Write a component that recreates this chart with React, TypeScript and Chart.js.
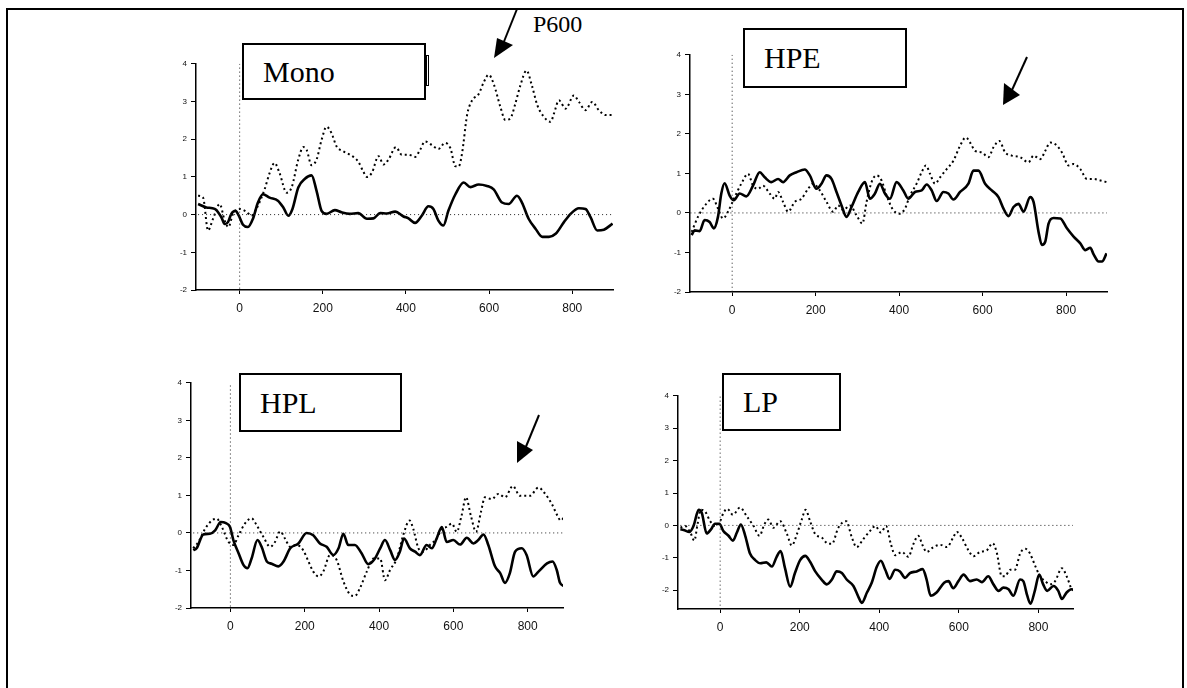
import React, { useEffect, useRef } from "react";
import { Chart, registerables } from "chart.js";
Chart.register(...registerables);

// ---------- ticks & reference lines ----------
const xTickValues = [0, 200, 400, 600, 800];
const yTickValues = [-2, -1, 0, 1, 2, 3, 4];
const refLineT = [-100, 900];
const refLineV = [0, 0];
const onsetT = [0, 0];
const onsetV = [-2.6, 4];

// ---------- Mono ----------
const monoSolidT = [-100,-80,-60,-44,-36,-28,-20,-10,-2,8,20,32,44,56,72,92,105,117,127,141,157,173,185,197,209,229,245,265,285,306,322,338,354,374,394,406,422,438,454,466,478,490,502,519,539,555,575,595,611,631,647,667,679,695,712,728,744,760,780,796,816,832,844,860,876,897];
const monoSolidV = [0.28,0.19,0.15,-0.07,-0.25,-0.2,0.02,0.1,-0.03,-0.27,-0.33,-0.11,0.32,0.54,0.45,0.37,0.19,-0.03,0.15,0.72,0.95,1.04,0.63,0.1,0.02,0.12,0.06,0.02,0.04,-0.11,-0.1,0.04,0.03,0.08,-0.05,-0.1,-0.22,-0.03,0.22,0.15,-0.16,-0.29,0.1,0.54,0.85,0.73,0.8,0.76,0.67,0.32,0.28,0.5,0.32,-0.11,-0.38,-0.59,-0.59,-0.51,-0.2,0.02,0.17,0.15,-0.07,-0.42,-0.4,-0.24];
const monoDotT = [-100,-88,-76,-64,-48,-36,-27,-16,0,16,28,40,60,72,84,96,113,125,141,153,161,173,185,197,209,221,233,249,265,285,297,306,318,334,346,358,376,390,406,422,434,446,462,478,494,507,519,527,535,547,559,575,587,599,611,627,639,651,663,675,690,703,716,732,748,756,768,784,804,816,832,848,864,880,899];
const monoDotV = [0.5,0.45,-0.42,-0.11,0.28,-0.16,-0.33,0.02,0.15,0.08,-0.03,0.15,0.67,1.1,1.37,1.1,0.58,0.72,1.46,1.79,1.72,1.31,1.46,1.98,2.33,2.16,1.81,1.68,1.59,1.41,1.15,1.0,1.11,1.55,1.33,1.46,1.79,1.59,1.59,1.53,1.72,1.94,1.85,1.74,1.9,1.76,1.28,1.28,1.63,2.64,3.03,3.2,3.51,3.71,3.47,2.86,2.51,2.55,2.94,3.42,3.82,3.42,2.9,2.59,2.46,2.68,3.03,2.81,3.16,2.99,2.77,2.99,2.77,2.64,2.64];

// ---------- HPE ----------
const hpeSolidT = [-97,-90,-78,-66,-54,-44,-34,-26,-18,-6,4,18,34,50,66,78,94,110,122,138,154,174,186,202,214,226,238,250,262,274,286,302,318,330,342,354,366,378,394,410,422,438,454,466,478,490,506,518,530,546,566,578,590,606,622,638,650,662,674,686,698,714,722,734,742,750,758,770,786,802,818,834,846,858,866,878,886,897];
const hpeSolidV = [-0.56,-0.44,-0.46,-0.18,-0.23,-0.39,-0.1,0.49,0.75,0.44,0.32,0.49,0.42,0.69,1.03,0.9,0.78,0.86,0.78,0.95,1.03,1.1,0.95,0.61,0.74,0.95,0.86,0.53,0.19,-0.1,0.15,0.53,0.78,0.36,0.49,0.74,0.49,0.36,0.78,0.57,0.36,0.53,0.57,0.72,0.57,0.3,0.53,0.49,0.34,0.53,0.74,1.07,1.07,0.74,0.57,0.4,0.11,-0.08,0.15,0.23,0.03,0.4,0.28,-0.48,-0.81,-0.73,-0.27,-0.13,-0.14,-0.39,-0.6,-0.77,-0.94,-0.88,-1.05,-1.23,-1.23,-1.02];
const hpeDotT = [-97,-82,-62,-46,-34,-22,-10,6,22,38,50,62,74,90,102,110,122,134,150,166,182,194,210,226,242,254,266,282,298,312,322,334,346,358,370,386,402,414,426,442,454,464,474,486,498,514,530,546,560,570,582,598,614,626,640,654,670,690,710,722,738,750,762,774,790,806,818,834,850,866,882,897];
const hpeDotV = [-0.48,-0.1,0.23,0.36,0.11,-0.14,0.03,0.4,0.74,0.99,0.69,0.61,0.69,0.49,0.36,0.53,0.28,0.03,0.28,0.36,0.61,0.74,0.57,0.28,0.03,0.19,0.07,0.19,-0.06,-0.27,0.28,0.78,0.95,0.82,0.44,0.07,-0.02,0.11,0.44,0.74,1.03,1.2,0.99,0.74,0.9,1.11,1.32,1.7,1.91,1.78,1.57,1.53,1.41,1.66,1.82,1.53,1.45,1.41,1.28,1.45,1.36,1.57,1.78,1.74,1.53,1.2,1.24,1.11,0.86,0.86,0.82,0.78];

// ---------- HPL ----------
const hplSolidT = [-100,-91,-73,-55,-41,-26,-12,-1,8,22,35,46,57,73,84,98,111,129,143,161,183,205,223,241,259,277,291,304,317,335,353,371,389,403,416,430,443,456,467,483,497,510,528,542,555,569,582,600,618,636,654,667,681,694,712,726,739,752,766,784,797,815,829,852,867,878,887,898];
const hplSolidV = [-0.46,-0.41,-0.04,-0.02,0.07,0.29,0.26,0.16,-0.19,-0.54,-0.85,-0.94,-0.68,-0.19,-0.37,-0.76,-0.82,-0.89,-0.76,-0.41,-0.28,0,-0.06,-0.28,-0.37,-0.59,-0.41,-0.02,-0.32,-0.32,-0.54,-0.83,-0.68,-0.41,-0.19,-0.46,-0.72,-0.5,-0.15,-0.41,-0.5,-0.59,-0.32,-0.41,-0.15,0.16,-0.24,-0.19,-0.31,-0.13,-0.28,-0.19,-0.04,-0.32,-0.89,-1.07,-1.33,-1.07,-0.5,-0.41,-0.59,-1.16,-1.03,-0.81,-0.76,-0.98,-1.33,-1.42];
const hplDotT = [-100,-86,-68,-50,-37,-23,-5,8,22,39,57,71,89,107,120,134,147,161,178,196,210,223,237,250,268,286,304,322,335,349,367,385,403,416,430,448,465,482,492,506,519,537,555,569,582,596,609,622,634,647,661,674,685,703,721,739,760,779,806,829,847,865,880,889,898];
const hplDotV = [-0.41,-0.24,0.11,0.33,0.38,0.16,-0.24,-0.32,-0.06,0.25,0.39,0.2,-0.11,-0.37,-0.24,0.04,-0.15,-0.37,-0.32,-0.46,-0.76,-1.03,-1.16,-1.03,-0.59,-0.72,-1.29,-1.64,-1.68,-1.46,-1.03,-0.68,-0.68,-1.26,-0.98,-0.68,-0.06,0.33,0.11,-0.41,-0.5,-0.32,-0.15,0.11,0.16,0.25,0.03,0.46,0.95,0.46,0.03,0.55,0.95,0.9,1.04,0.95,1.25,0.99,0.99,1.21,1.04,0.77,0.46,0.33,0.42];

// ---------- LP ----------
const lpSolidT = [-100,-92,-77,-67,-54,-46,-34,-23,-13,-2,8,21,32,42,52,63,75,88,101,116,130,142,152,163,176,188,201,214,226,239,255,268,281,293,306,318,335,348,356,369,381,394,404,415,426,440,452,465,477,494,509,519,529,544,563,574,586,599,612,628,645,658,674,687,700,712,725,737,754,762,772,780,791,802,812,822,838,850,859,871,883,892];
const lpSolidV = [-0.12,-0.14,-0.2,-0.02,0.48,0.38,-0.25,-0.12,0.05,0.05,-0.17,-0.32,-0.47,-0.22,0.03,-0.32,-0.87,-1.07,-1.17,-1.14,-1.27,-0.97,-0.79,-1.32,-1.89,-1.47,-1.07,-0.94,-1.12,-1.42,-1.67,-1.82,-1.67,-1.42,-1.47,-1.67,-1.87,-2.22,-2.39,-2.07,-1.77,-1.27,-1.09,-1.37,-1.65,-1.37,-1.42,-1.62,-1.47,-1.42,-1.35,-1.67,-2.17,-2.07,-1.77,-1.72,-1.94,-1.72,-1.52,-1.72,-1.67,-1.75,-1.57,-1.82,-2.02,-1.92,-1.97,-2.17,-1.67,-1.72,-2.17,-2.42,-2.02,-1.52,-1.82,-2.02,-1.87,-2.02,-2.27,-2.07,-1.97,-2.02];
const lpDotT = [-100,-88,-75,-65,-57,-49,-38,-25,-13,0,8,18,32,50,67,84,99,111,121,134,151,168,180,193,205,215,226,239,255,272,281,297,317,331,343,360,377,390,404,417,429,440,457,473,486,498,509,519,536,553,570,586,595,607,624,637,653,670,685,695,708,716,729,741,754,767,779,791,804,817,829,842,859,871,883];
const lpDotV = [-0.07,-0.02,-0.22,-0.47,0.03,0.48,0.43,0.13,-0.02,0.13,0.38,0.51,0.33,0.55,0.28,-0.02,-0.32,0.03,0.18,-0.07,0.13,-0.27,-0.62,-0.27,0.18,0.48,0.13,-0.27,-0.37,-0.57,-0.57,-0.07,0.13,-0.37,-0.67,-0.42,-0.17,-0.02,-0.22,-0.02,-0.57,-0.92,-0.82,-0.97,-0.57,-0.32,-0.62,-0.82,-0.67,-0.6,-0.67,-0.37,-0.2,-0.37,-0.77,-0.95,-0.82,-0.77,-0.55,-0.82,-1.57,-1.57,-1.37,-1.37,-0.87,-0.72,-0.87,-1.22,-1.57,-1.72,-1.82,-1.72,-1.32,-1.57,-1.97];

// ---------- layout ----------
type PanelCfg = {
  label: string;
  solidT: number[]; solidV: number[]; dotT: number[]; dotV: number[];
  area: { left: number; top: number; right: number; bottom: number };
  xMin: number; xMax: number; yMin: number; yMax: number;
  box: { left: number; top: number; width: number; height: number };
};

const panels: PanelCfg[] = [
  { label: "Mono", solidT: monoSolidT, solidV: monoSolidV, dotT: monoDotT, dotV: monoDotV,
    area: { left: 196, top: 61, right: 613, bottom: 290 }, xMin: -105, xMax: 898, yMin: -2, yMax: 4,
    box: { left: 242, top: 43, width: 184, height: 57 } },
  { label: "HPE", solidT: hpeSolidT, solidV: hpeSolidV, dotT: hpeDotT, dotV: hpeDotV,
    area: { left: 690, top: 52, right: 1107, bottom: 292 }, xMin: -101, xMax: 898, yMin: -2, yMax: 4,
    box: { left: 743, top: 28, width: 164, height: 60 } },
  { label: "HPL", solidT: hplSolidT, solidV: hplSolidV, dotT: hplDotT, dotV: hplDotV,
    area: { left: 191, top: 380, right: 563, bottom: 608 }, xMin: -106, xMax: 895, yMin: -2, yMax: 4,
    box: { left: 239, top: 373, width: 163, height: 59 } },
  { label: "LP", solidT: lpSolidT, solidV: lpSolidV, dotT: lpDotT, dotV: lpDotV,
    area: { left: 678, top: 393, right: 1073, bottom: 609 }, xMin: -106, xMax: 887, yMin: -2.58, yMax: 4,
    box: { left: 722, top: 373, width: 119, height: 58 } },
];

const PL = 40, PR = 6, PT = 6, PB = 36;

const toPts = (t: number[], v: number[]) => t.map((x, i) => ({ x, y: v[i] }));

function Panel({ p }: { p: PanelCfg }) {
  const ref = useRef<HTMLCanvasElement | null>(null);
  const w = p.area.right - p.area.left + PL + PR;
  const h = p.area.bottom - p.area.top + PT + PB;
  useEffect(() => {
    if (!ref.current) return;
    const chart = new Chart(ref.current, {
      type: "line",
      data: {
        datasets: [
          { data: toPts(refLineT, refLineV), borderColor: "#222", borderWidth: 1, borderDash: [1, 3], pointRadius: 0, tension: 0 },
          { data: toPts(onsetT, onsetV), borderColor: "#222", borderWidth: 1, borderDash: [1, 3], pointRadius: 0, tension: 0 },
          { data: toPts(p.dotT, p.dotV), borderColor: "#000", borderWidth: 2, borderDash: [2, 3], pointRadius: 0, cubicInterpolationMode: "monotone" },
          { data: toPts(p.solidT, p.solidV), borderColor: "#000", borderWidth: 2.6, pointRadius: 0, cubicInterpolationMode: "monotone" },
        ],
      } as any,
      options: {
        responsive: false,
        maintainAspectRatio: false,
        animation: false,
        layout: { padding: { top: PT, right: PR, left: 0, bottom: 0 } },
        plugins: { legend: { display: false }, tooltip: { enabled: false } },
        scales: {
          x: {
            type: "linear", min: p.xMin, max: p.xMax,
            afterFit: (s: any) => { s.height = PB; },
            afterBuildTicks: (s: any) => { s.ticks = xTickValues.map((v) => ({ value: v })); },
            grid: { display: true, drawOnChartArea: false, drawTicks: true, tickLength: 4, color: "#000", lineWidth: 1 },
            border: { display: true, color: "#000", width: 1.5 },
            ticks: { color: "#111", font: { family: "'Liberation Sans', Arial, sans-serif", size: 12 }, padding: 7, maxRotation: 0, autoSkip: false },
          },
          y: {
            type: "linear", min: p.yMin, max: p.yMax,
            afterFit: (s: any) => { s.width = PL; },
            afterBuildTicks: (s: any) => { s.ticks = yTickValues.map((v) => ({ value: v })); },
            grid: { display: true, drawOnChartArea: false, drawTicks: true, tickLength: 5, color: "#000", lineWidth: 1 },
            border: { display: true, color: "#000", width: 1.5 },
            ticks: { color: "#111", font: { family: "'Liberation Sans', Arial, sans-serif", size: 8 }, padding: 4, autoSkip: false },
          },
        },
      } as any,
    });
    return () => chart.destroy();
  }, []);
  return (
    <canvas
      ref={ref}
      width={w}
      height={h}
      style={{ position: "absolute", left: p.area.left - PL, top: p.area.top - PT, width: w, height: h }}
    />
  );
}

export default function App() {
  return (
    <div style={{ position: "fixed", left: 0, top: 0, width: 1187, height: 688, background: "#fff", overflow: "hidden" }}>
      <div style={{ position: "absolute", left: 6, top: 8, width: 1174, height: 720, borderTop: "2px solid #000", borderLeft: "2px solid #000", borderRight: "2px solid #000" }} />
      {panels.map((p) => <Panel key={p.label} p={p} />)}
      {panels.map((p) => (
        <div key={p.label + "-box"} style={{
          position: "absolute", left: p.box.left, top: p.box.top, width: p.box.width, height: p.box.height,
          boxSizing: "border-box", border: "2px solid #000", background: "#fff",
          display: "flex", alignItems: "center", paddingLeft: 19,
          fontFamily: "'Liberation Serif', 'Times New Roman', serif", fontSize: 30, color: "#000", lineHeight: 1,
        }}>{p.label}</div>
      ))}
      <div style={{ position: "absolute", left: 426, top: 55, width: 3, height: 31, boxSizing: "border-box", border: "1px solid #000", background: "#fff" }} />
      <div style={{ position: "absolute", left: 533, top: 9, fontFamily: "'Liberation Serif', 'Times New Roman', serif", fontSize: 24, color: "#000", lineHeight: "30px" }}>P600</div>
      <svg width={1187} height={688} style={{ position: "absolute", left: 0, top: 0 }}>
        <line x1={517} y1={9} x2={503} y2={44} stroke="#000" strokeWidth={2} />
        <polygon points="494,58 497,38 513,45" fill="#000" />
        <line x1={1027} y1={57} x2={1012} y2={90} stroke="#000" strokeWidth={2} />
        <polygon points="1003,105 1004,83 1020,95" fill="#000" />
        <line x1={539} y1={415} x2={525} y2={449} stroke="#000" strokeWidth={2} />
        <polygon points="517,463 517,441 533,450" fill="#000" />
      </svg>
    </div>
  );
}
